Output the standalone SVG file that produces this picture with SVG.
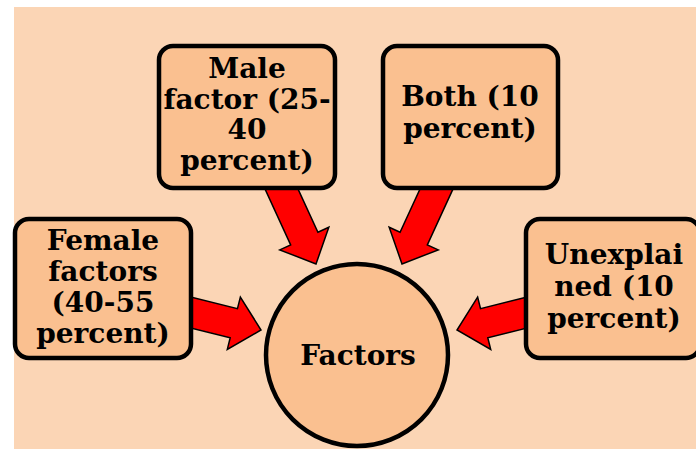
<svg xmlns="http://www.w3.org/2000/svg" width="696" height="449" viewBox="0 0 696 449">
<defs>
<style>
.bg{fill:#FBD5B5}
.box{fill:#FAC090;stroke:#000;stroke-width:4.5}
.arrow{fill:#FF0000;stroke:#000;stroke-width:1.5;stroke-linejoin:miter}
.t{font-family:"DejaVu Serif","Liberation Serif",serif;font-weight:bold;font-size:28px;fill:#000;text-anchor:middle}
</style>
<polygon id="arr" points="-100,-15 -28,-15 -28,-27 0,0 -28,27 -28,15 -100,15"/>
</defs>
<rect x="0" y="0" width="696" height="449" fill="#FFFFFF"/>
<rect class="bg" x="14" y="7" width="682" height="442"/>
<g id="connectors">
<use href="#arr" class="arrow" transform="translate(316,264) rotate(65.3)"/>
<use href="#arr" class="arrow" transform="translate(402,264) rotate(114.7)"/>
<use href="#arr" class="arrow" transform="translate(261,330) rotate(14)"/>
<use href="#arr" class="arrow" transform="translate(457,330) rotate(166)"/>
</g>
<g id="male">
<rect class="box" x="159" y="46" width="176" height="142" rx="14"/>
<text class="t" x="247" y="78">Male</text>
<text class="t" x="247" y="108.5">factor (25-</text>
<text class="t" x="247" y="139">40</text>
<text class="t" x="247" y="169.5">percent)</text>
</g>
<g id="both">
<rect class="box" x="383" y="46" width="175" height="142" rx="14"/>
<text class="t" x="470" y="106">Both (10</text>
<text class="t" x="470" y="138">percent)</text>
</g>
<g id="female">
<rect class="box" x="15" y="219" width="176" height="139" rx="14"/>
<text class="t" x="103" y="250">Female</text>
<text class="t" x="103" y="281">factors</text>
<text class="t" x="103" y="312">(40-55</text>
<text class="t" x="103" y="343">percent)</text>
</g>
<g id="unexplained">
<rect class="box" x="526" y="219" width="174" height="139" rx="14"/>
<text class="t" x="614" y="264">Unexplai</text>
<text class="t" x="614" y="296">ned (10</text>
<text class="t" x="614" y="328">percent)</text>
</g>
<g id="factors">
<circle class="box" cx="357" cy="355" r="91"/>
<text class="t" x="358" y="365">Factors</text>
</g>
</svg>
